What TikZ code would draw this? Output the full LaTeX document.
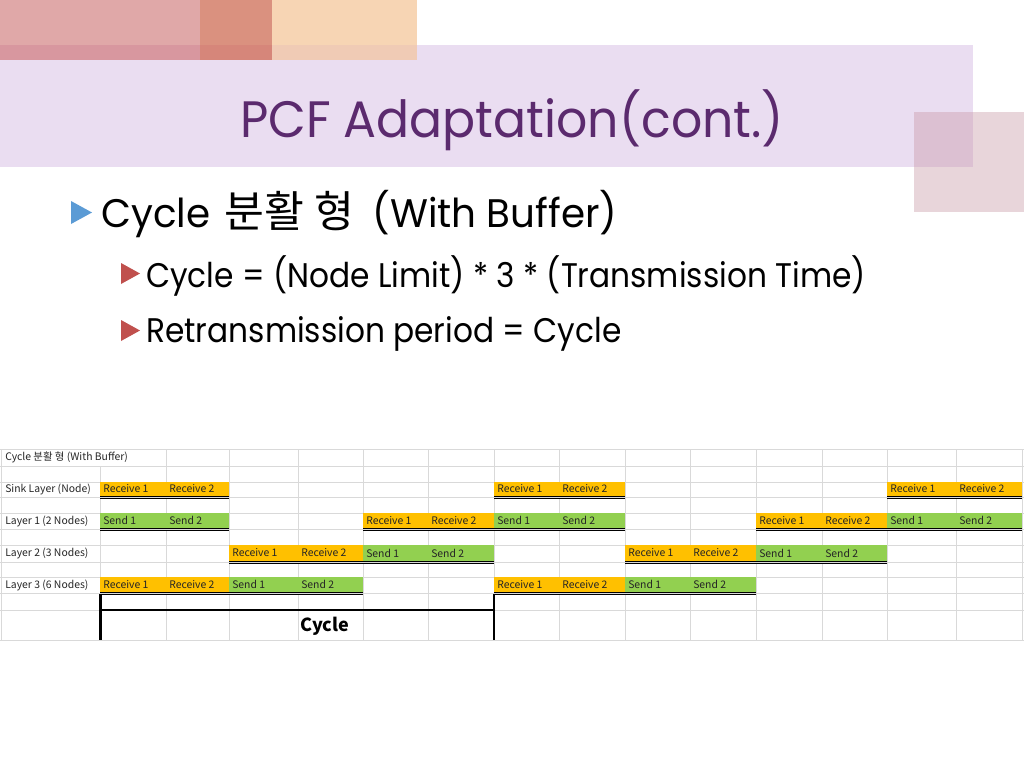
\documentclass[tikz,border=0pt]{standalone}
\usepackage{fontspec}
\setmainfont{Poppins}[FakeStretch=0.92]
\newfontfamily\titlefont{Poppins}[FakeStretch=0.955]
\newfontfamily\mainfont{Poppins}[FakeStretch=0.975]
\newfontfamily\subfont{Poppins}[FakeStretch=0.915]
\newfontfamily\kr{Noto Sans CJK KR}
\definecolor{band}{HTML}{EADDF1}
\definecolor{pinkA}{HTML}{E0A8A8}
\definecolor{darkA}{HTML}{DA917F}
\definecolor{peachA}{HTML}{F7D5B4}
\definecolor{pinkB}{HTML}{D8979F}
\definecolor{darkB}{HTML}{D6867A}
\definecolor{peachB}{HTML}{F0CBB5}
\definecolor{rsq}{HTML}{E8D5DA}
\definecolor{rsqB}{HTML}{DCC0D2}
\definecolor{ttl}{HTML}{5B2A6E}
\definecolor{bblue}{HTML}{5B9BD5}
\definecolor{bred}{HTML}{C0504D}
\definecolor{gridc}{HTML}{D9D9D9}
\definecolor{rcv}{HTML}{FFC000}
\definecolor{snd}{HTML}{92D050}
\tikzset{
  titletext/.style={inner sep=0pt, text=ttl, font=\titlefont\fontsize{38.4}{46}\selectfont},
  mainbullet/.style={inner sep=0pt, text=black, font=\mainfont\fontsize{29.9}{36}\selectfont},
  subbullet/.style={inner sep=0pt, text=black, font=\subfont\fontsize{25.6}{31}\selectfont},
  celltxt/.style={inner sep=0pt, anchor=west, text=black!85, font=\kr\fontsize{7.8}{9}\selectfont},
  cycletxt/.style={inner sep=0pt, text=black, font=\kr\bfseries\fontsize{13.5}{16}\selectfont},
  gridline/.style={draw=gridc, line width=0.75pt},
  dline/.style={draw=black, line width=0.7pt},
  thick bracket/.style={draw=black, line width=1.9pt},
}
% #1 x-left, #2 x-mid, #3 x-right, #4 row top, #5 row bottom, #6 colour, #7 word, #8 name
\newcommand{\blockpair}[8]{%
  \fill[#6] (#1,#4) rectangle (#3,#5);
  \node[celltxt] (#8a) at ({#1+3},{(#4+#5)/2-0.5}) {#7 1};
  \node[celltxt] (#8b) at ({#2+3},{(#4+#5)/2-0.5}) {#7 2};
  \draw[dline] (#1,{#5-0.6}) -- (#3,{#5-0.6});
  \draw[dline] (#1,{#5+1.3}) -- (#3,{#5+1.3});
}
\begin{document}
\begin{tikzpicture}[x=0.75pt,y=-0.75pt]
\useasboundingbox (0,0) rectangle (1024,768);
\fill[white] (0,0) rectangle (1024,768);
% decorative header
\fill[pinkA] (0,0) rectangle (200,45);
\fill[darkA] (200,0) rectangle (272,45);
\fill[peachA] (272,0) rectangle (417,45);
\fill[band] (0,45) rectangle (973,167);
\fill[pinkB] (0,45) rectangle (200,60);
\fill[darkB] (200,45) rectangle (272,60);
\fill[peachB] (272,45) rectangle (417,60);
\fill[rsq] (914,112) rectangle (1024,212);
\fill[rsqB] (914,112) rectangle (973,167);
\node[titletext, anchor=base] (title) at (512,137) {PCF Adaptation(cont.)};
% bullets
\fill[bblue] (71,201) -- (71,224) -- (92,212.5) -- cycle;
\node[mainbullet, anchor=base west] (b1) at (101,227) {Cycle\ \kern3pt{\kr\fontsize{32.5}{36}\selectfont 분활 형}\ \kern6pt(With Buffer)};
\fill[bred] (121,263) -- (121,284) -- (140,273.5) -- cycle;
\node[subbullet, anchor=base west] (b2) at (146,287) {Cycle = (Node Limit) * 3 * (Transmission Time)};
\fill[bred] (121,320) -- (121,341) -- (140,330.5) -- cycle;
\node[subbullet, anchor=base west] (b3) at (146,342) {Retransmission period = Cycle};
% grid
\foreach \yy in {449,466,482,497,513,529,545,562,577,593,610,640}
  \draw[gridline] (0,\yy) -- (1024,\yy);
\draw[gridline] (1,449) -- (1,640);
\draw[gridline] (100,466) -- (100,640);
\foreach \xx in {166,229,298,363,428,494,559,625,690,756,822,887,956,1022}
  \draw[gridline] (\xx,449) -- (\xx,640);
% labels
\node[celltxt] (t0) at (5,457) {Cycle 분활 형 (With Buffer)};
\node[celltxt] (t1) at (5,489) {Sink Layer (Node)};
\node[celltxt] (t2) at (5,521) {Layer 1 (2 Nodes)};
\node[celltxt] (t3) at (5,553) {Layer 2 (3 Nodes)};
\node[celltxt] (t4) at (5,585) {Layer 3 (6 Nodes)};
% sink layer
\blockpair{100}{166}{229}{482}{497}{rcv}{Receive}{sA}
\blockpair{494}{559}{625}{482}{497}{rcv}{Receive}{sB}
\blockpair{887}{956}{1022}{482}{497}{rcv}{Receive}{sC}
% layer 1
\blockpair{100}{166}{229}{513}{529}{snd}{Send}{aA}
\blockpair{363}{428}{494}{513}{529}{rcv}{Receive}{aB}
\blockpair{494}{559}{625}{513}{529}{snd}{Send}{aC}
\blockpair{756}{822}{887}{513}{529}{rcv}{Receive}{aD}
\blockpair{887}{956}{1022}{513}{529}{snd}{Send}{aE}
% layer 2
\blockpair{229}{298}{363}{545}{562}{rcv}{Receive}{bA}
\blockpair{363}{428}{494}{545}{562}{snd}{Send}{bB}
\blockpair{625}{690}{756}{545}{562}{rcv}{Receive}{bC}
\blockpair{756}{822}{887}{545}{562}{snd}{Send}{bD}
% layer 3
\blockpair{100}{166}{229}{577}{593}{rcv}{Receive}{cA}
\blockpair{229}{298}{363}{577}{593}{snd}{Send}{cB}
\blockpair{494}{559}{625}{577}{593}{rcv}{Receive}{cC}
\blockpair{625}{690}{756}{577}{593}{snd}{Send}{cD}
% cycle bracket
\coordinate (ctl) at (100.5,594);
\coordinate (cbl) at (100.5,640);
\coordinate (ctr) at (494,594);
\coordinate (cbr) at (494,640);
\coordinate (cml) at (100.5,610);
\coordinate (cmr) at (494,610);
\draw[thick bracket] (ctl) -- (cbl);
\draw[thick bracket] (ctr) -- (cbr);
\draw[thick bracket] (cml) -- (cmr);
\node[cycletxt] (cyc) at (325,626) {Cycle};
\end{tikzpicture}
\end{document}
